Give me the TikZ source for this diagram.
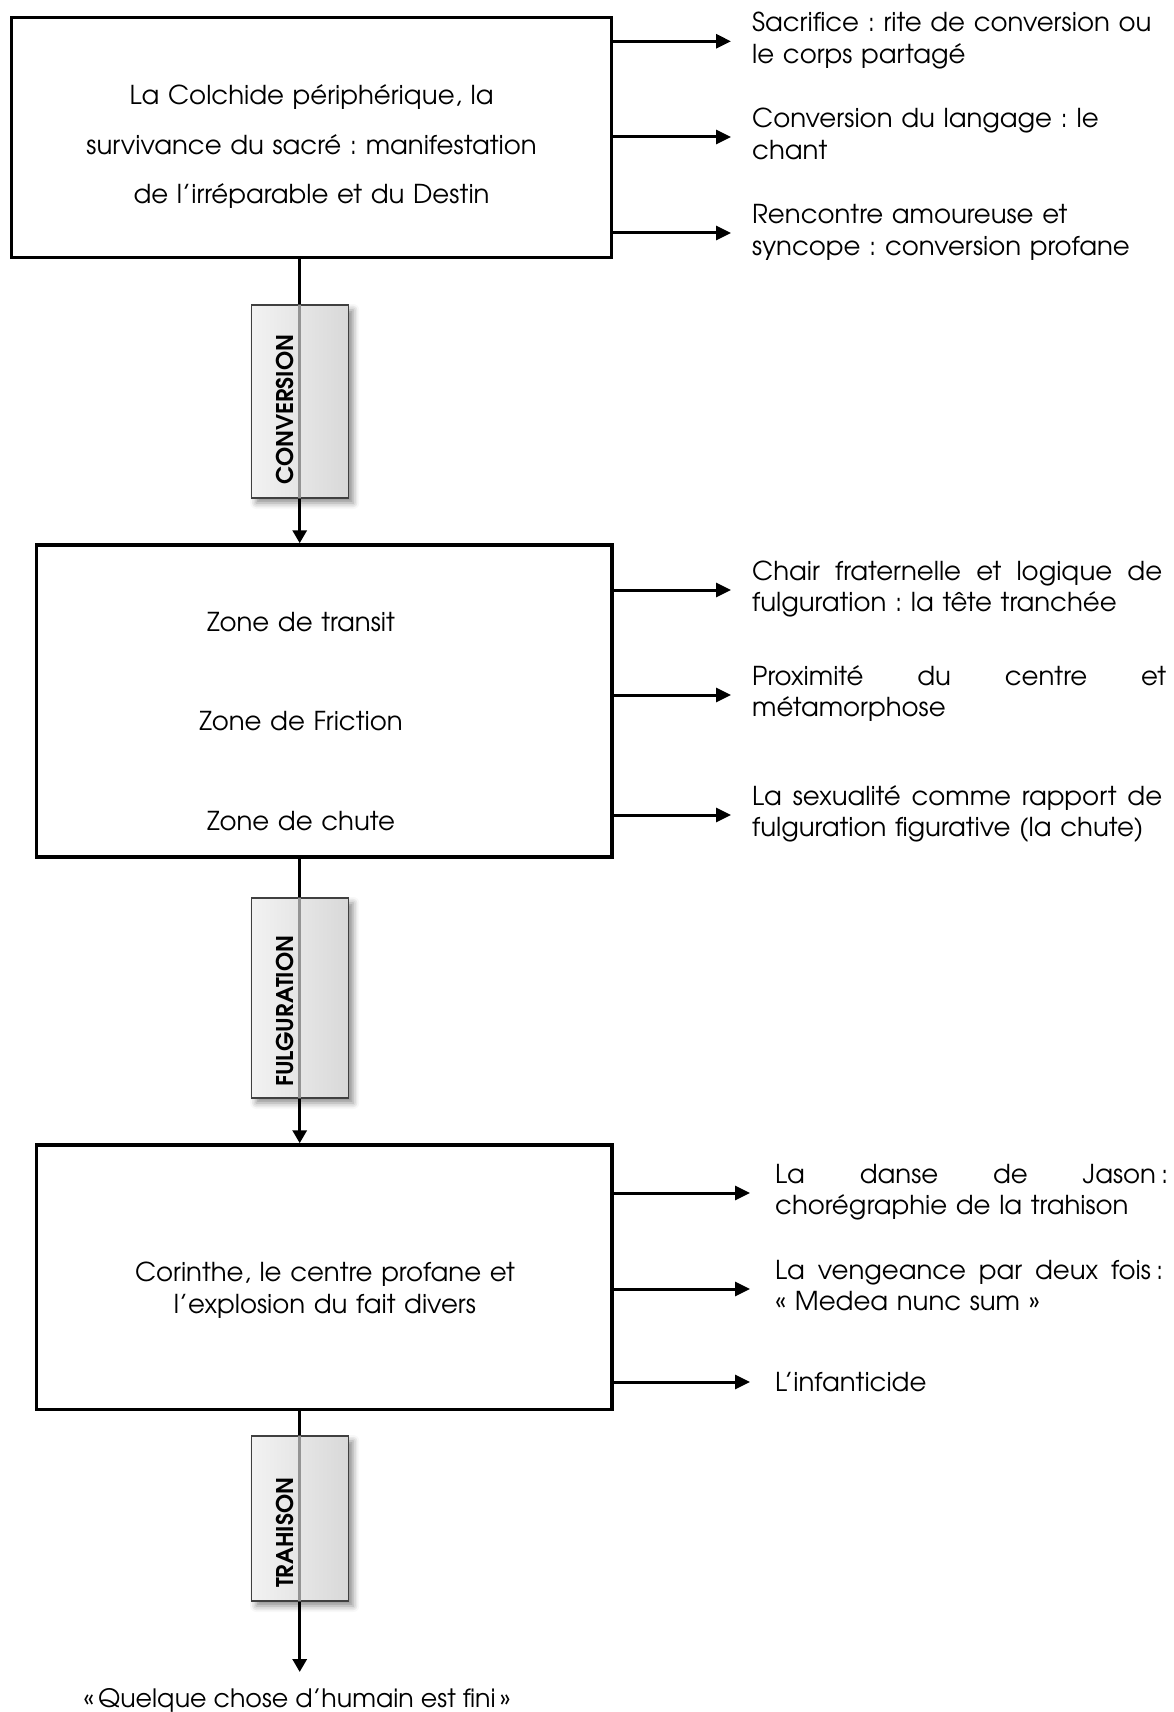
\documentclass[tikz,border=0pt]{standalone}
\usepackage{fontspec}
\setmainfont{texgyreadventor}[Extension=.otf, UprightFont=*-regular, BoldFont=*-bold, ItalicFont=*-italic, BoldItalicFont=*-bolditalic]
\usetikzlibrary{arrows.meta, shadows.blur}
\newcommand\jline[2]{\hbox to #1{\spaceskip=0.3333em plus 1fil\relax #2}}
\frenchspacing
\tikzset{
  frame/.style={draw, line width=3.5pt, inner sep=0pt},
  harr/.style={line width=3pt, -{Triangle[length=15pt,width=14pt]}},
  varr/.style={line width=3.2pt, -{Triangle[length=13pt,width=14pt]}},
  vgray/.style={line width=3.2pt, black!42},
  labbox/.style={draw=black!75, line width=1.2pt, left color=black!5, right color=black!15,
    blur shadow={shadow xshift=5pt, shadow yshift=-5pt, shadow blur radius=6pt, shadow opacity=45},
    inner sep=0pt, minimum width=97pt},
  labtxt/.style={rotate=90, anchor=base west, inner sep=0pt, font=\bfseries\fontsize{23}{23}\selectfont},
  maintxt/.style={inner sep=0pt, anchor=base, align=center, text width=#1},
  side/.style={inner sep=0pt, anchor=base west, align=left, text width=#1,
    font=\fontsize{26}{31.6}\selectfont},
}
\begin{document}
\begin{tikzpicture}[x=1pt, y=-1pt]
\useasboundingbox (0,0) rectangle (1173,1712);

% main boxes
\node[frame, minimum width=599.8pt, minimum height=240pt] (b1) at (311.6,137.3) {};
\node[frame, minimum width=575.5pt, minimum height=312pt] (b2) at (324.25,701) {};
\node[frame, minimum width=575.5pt, minimum height=264.5pt] (b3) at (324.25,1277.25) {};

% box texts
\node[maintxt=580pt, font=\fontsize{26}{49.2}\selectfont] (m1) at (311.6,105)
  {La Colchide périphérique, la\\survivance du sacré : manifestation\\de l’irréparable et du Destin};
\node[maintxt=540pt, font=\fontsize{26}{99.5}\selectfont] (m2) at (301,631)
  {Zone de transit\\Zone de Friction\\Zone de chute};
\node[maintxt=540pt, font=\fontsize{26}{31.5}\selectfont] (m3) at (325,1281.5)
  {Corinthe, le centre profane et\\l’explosion du fait divers};

% side texts
\node[side=420pt] (t11) at (752,31.7) {Sacrifice : rite de conversion ou\\le corps partagé};
\node[side=420pt] (t12) at (752,128) {Conversion du langage : le\\chant};
\node[side=420pt] (t13) at (752,224) {Rencontre amoureuse et\\syncope : conversion profane};

\node[side=414pt] (t21) at (752,580) {\jline{410pt}{Chair fraternelle et logique de}\\fulguration : la tête tranchée};
\node[side=414pt] (t22) at (752,685) {\jline{414pt}{Proximité du centre et}\\métamorphose};
\node[side=414pt] (t23) at (752,805) {\jline{410pt}{La sexualité comme rapport de}\\fulguration figurative (la chute)};

\node[side=393pt] (t31) at (775,1183) {\jline{393pt}{La danse de Jason\hspace{5pt}:}\\chorégraphie de la trahison};
\node[side=393pt] (t32) at (775,1279) {\jline{388pt}{La vengeance par deux fois\hspace{5pt}:}\\«~Medea nunc sum~»};
\node[side=393pt] (t33) at (775,1391) {L’infanticide};

% arrow ends
\coordinate (e11) at (731,41.3);
\coordinate (e12) at (731,137);
\coordinate (e13) at (731,233);
\coordinate (e21) at (731,590);
\coordinate (e22) at (731,695);
\coordinate (e23) at (731,815);
\coordinate (e31) at (750,1193);
\coordinate (e32) at (750,1289);
\coordinate (e33) at (750,1382);

\foreach \b/\e in {b1/e11,b1/e12,b1/e13,b2/e21,b2/e22,b2/e23,b3/e31,b3/e32,b3/e33}
  \draw[harr] (\b.east |- \e) -- (\e);

% label box centres
\path (299.7,401.5) coordinate (c1) (299.7,998) coordinate (c2) (299.7,1518.5) coordinate (c3);
\coordinate (fin) at (299.7,1672);

% vertical connectors
\draw[varr] (b1.south -| c1) -- (b2.north -| c1);
\draw[varr] (b2.south -| c2) -- (b3.north -| c2);
\draw[varr] (b3.south -| c3) -- (fin);

% labels
\node[labbox, minimum height=193pt] (l1) at (c1) {};
\node[labbox, minimum height=200pt] (l2) at (c2) {};
\node[labbox, minimum height=165pt] (l3) at (c3) {};
\draw[vgray] ([yshift=-0.6pt]l1.north) -- ([yshift=0.6pt]l1.south);
\draw[vgray] ([yshift=-0.6pt]l2.north) -- ([yshift=0.6pt]l2.south);
\draw[vgray] ([yshift=-0.6pt]l3.north) -- ([yshift=0.6pt]l3.south);
\node[labtxt] (k1) at (293.5,485) {CONVERSION};
\node[labtxt] (k2) at (293.5,1087) {FULGURATION};
\node[labtxt] (k3) at (293.5,1588) {TRAHISON};

% final text
\node[inner sep=0pt, anchor=base, font=\fontsize{25.3}{30}\selectfont] (fintxt) at (297,1707)
  {«\,Quelque chose d’humain est fini\,»};
\end{tikzpicture}
\end{document}
